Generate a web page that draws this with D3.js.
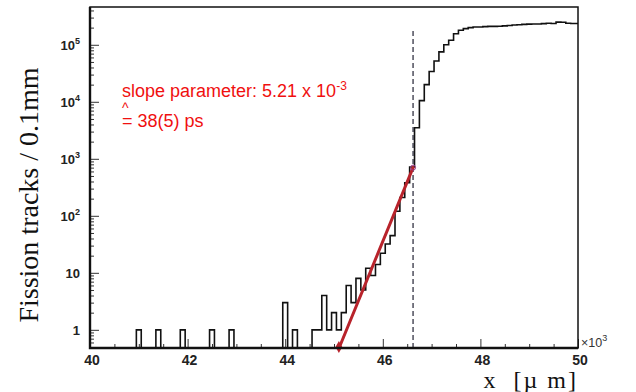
<!DOCTYPE html>
<html>
<head>
<meta charset="utf-8">
<script src="https://cdn.jsdelivr.net/npm/d3@7"></script>
<style>
body { margin: 0; background: #fff; }
</style>
</head>
<body>
<svg id="chart" width="636" height="392"></svg>
<script>
// histogram bins (left edge, x in 10^3 um) and counts per 0.1 mm
var binLo = [40.95, 41.35, 41.85, 42.45, 42.85, 43.95, 44.15,
             44.55, 44.65, 44.75, 44.85, 44.95, 45.05,
             45.15, 45.25, 45.35, 45.45, 45.55, 45.65, 45.75, 45.85, 45.95,
             46.05, 46.15, 46.25, 46.35, 46.45, 46.55,
             46.65, 46.75, 46.85, 46.95, 47.05, 47.15, 47.25, 47.35, 47.45,
             47.55, 47.65, 47.75, 47.85, 47.95, 48.05, 48.15, 48.25, 48.35,
             48.45, 48.55, 48.65, 48.75, 48.85, 48.95, 49.05, 49.15, 49.25,
             49.35, 49.45, 49.55, 49.65, 49.75, 49.85, 49.95];
var counts = [1, 1, 1, 1, 1, 3, 1,
              1, 1, 4, 1, 2, 1,
              2, 6, 3, 8, 5, 12, 9, 14, 22,
              32, 45, 120, 210, 380, 720,
              3500, 10500, 20000, 34000, 52000, 75000, 100000, 120000, 156000,
              180000, 192000, 200000, 205000, 205000, 208000, 210000, 210000, 212000,
              215000, 218000, 222000, 225000, 228000, 230000, 232000, 232000, 235000,
              238000, 236000, 250000, 248000, 238000, 236000, 236000];
var binWidth = 0.1;

var xTickVals = [40, 42, 44, 46, 48, 50];
var xTickLabels = ["40", "42", "44", "46", "48", "50"];
var yTickVals = [1, 10, 100, 1000, 10000, 100000];
var yTickBase = ["1", "10", "10", "10", "10", "10"];
var yTickExp = ["", "", "2", "3", "4", "5"];

// exponential fit, end points
var fitX = [45.1, 46.62];
var fitY = [0.47, 700];
var edgeX = 46.62;

var pLeft = 90, pRight = 578, pTop = 7, pBottom = 348;

var svg = d3.select("#chart");
var x = d3.scaleLinear().domain([40, 50]).range([pLeft, pRight]);
var y = d3.scaleLog().domain([0.48, 4.6e5]).range([pBottom, pTop]);

svg.append("defs").append("clipPath").attr("id", "plotclip")
   .append("rect").attr("x", pLeft).attr("y", pTop)
   .attr("width", pRight - pLeft).attr("height", pBottom - pTop);

// histogram outline
var pts = [[x(40), pBottom]];
binLo.forEach(function(b, i) {
    var x0 = x(b), x1 = x(b + binWidth), yy = y(counts[i]);
    var prev = binLo[i - 1], next = binLo[i + 1];
    if (prev === undefined || Math.abs(prev + binWidth - b) > 1e-6) pts.push([x0, pBottom]);
    pts.push([x0, yy], [x1, yy]);
    if (next === undefined || Math.abs(b + binWidth - next) > 1e-6) pts.push([x1, pBottom]);
});
svg.append("path")
   .attr("clip-path", "url(#plotclip)")
   .attr("d", d3.line()(pts))
   .style("fill", "none")
   .style("stroke", "#111")
   .style("stroke-width", "1.6px");

// dashed edge
svg.append("line")
   .attr("x1", x(edgeX)).attr("x2", x(edgeX))
   .attr("y1", 31).attr("y2", pBottom)
   .style("stroke", "#223")
   .style("stroke-width", "1.2px")
   .style("stroke-dasharray", "5,3");

// fit line
svg.append("line")
   .attr("x1", x(fitX[0])).attr("y1", y(fitY[0]))
   .attr("x2", x(fitX[1])).attr("y2", y(fitY[1]))
   .style("stroke", "#b8232b")
   .style("stroke-width", "3px")
   .style("stroke-linecap", "round");
svg.append("path")
   .attr("d", d3.symbol().type(d3.symbolDiamond).size(40)())
   .attr("transform", "translate(" + x(fitX[0]) + "," + (pBottom - 1) + ")")
   .style("fill", "#b8232b");
svg.append("circle")
   .attr("cx", x(fitX[1])).attr("cy", y(fitY[1]))
   .attr("r", 2.5)
   .style("fill", "none")
   .style("stroke", "#9a3a8a")
   .style("stroke-width", "1px");

// y axis ticks (inside)
var yMinor = [];
[0.1, 1, 10, 100, 1000, 10000, 100000].forEach(function(d) {
    for (var k = 2; k < 10; k++) {
        var v = d * k;
        if (v > 0.48 && v < 4.6e5) yMinor.push(v);
    }
});
svg.append("g").attr("transform", "translate(" + pLeft + ",0)")
   .call(d3.axisLeft(y).tickValues(yMinor).tickSize(-4).tickFormat(""))
   .call(function(g) { g.select(".domain").remove(); });
svg.append("g").attr("transform", "translate(" + pLeft + ",0)")
   .call(d3.axisLeft(y).tickValues(yTickVals).tickSize(-9).tickFormat(""))
   .call(function(g) { g.select(".domain").remove(); });

// x axis ticks (inside)
var xMinor = [];
for (var v = 40.5; v < 50; v += 0.5) if (xTickVals.indexOf(v) < 0) xMinor.push(v);
svg.append("g").attr("transform", "translate(0," + pBottom + ")")
   .call(d3.axisBottom(x).tickValues(xMinor).tickSize(-4).tickFormat(""))
   .call(function(g) { g.select(".domain").remove(); });
svg.append("g").attr("transform", "translate(0," + pBottom + ")")
   .call(d3.axisBottom(x).tickValues(xTickVals).tickSize(-9).tickFormat(""))
   .call(function(g) { g.select(".domain").remove(); });
svg.selectAll(".tick line").style("stroke", "#333").style("stroke-width", "1px");

// frame
svg.append("rect")
   .attr("x", pLeft).attr("y", pTop)
   .attr("width", pRight - pLeft).attr("height", pBottom - pTop)
   .style("fill", "none")
   .style("stroke", "#111")
   .style("stroke-width", "1.5px");
svg.append("path")
   .attr("d", "M" + pLeft + "," + pTop + "V" + pBottom + "H" + pRight)
   .style("fill", "none")
   .style("stroke", "#111")
   .style("stroke-width", "2.4px");

// tick labels
var yLab = svg.append("g")
   .style("font-family", "'Liberation Sans', Arial, sans-serif")
   .style("font-weight", "bold")
   .style("font-size", "13px")
   .style("fill", "#222");
yTickVals.forEach(function(d, i) {
    var t = yLab.append("text")
       .attr("x", 80).attr("y", y(d) + 5)
       .attr("text-anchor", "end");
    t.append("tspan").text(yTickBase[i]);
    if (yTickExp[i]) {
        t.append("tspan").attr("dy", -6).style("font-size", "9px").text(yTickExp[i]);
    }
});
xTickVals.forEach(function(d, i) {
    yLab.append("text")
       .attr("x", x(d) + 2).attr("y", 365)
       .attr("text-anchor", "middle")
       .style("font-size", "14px")
       .text(xTickLabels[i]);
});

// x10^3
var mult = svg.append("text")
   .attr("x", 581).attr("y", 347)
   .style("font-family", "'Liberation Sans', Arial, sans-serif")
   .style("font-size", "12.5px")
   .style("fill", "#333");
mult.append("tspan").text("\u00d710");
mult.append("tspan").attr("dy", -6).style("font-size", "9px").text("3");

// axis titles
svg.append("text")
   .attr("x", 578).attr("y", 388)
   .attr("text-anchor", "end")
   .style("font-family", "'Liberation Serif', 'Times New Roman', serif")
   .style("font-size", "24px")
   .style("letter-spacing", "2px")
   .style("white-space", "pre")
   .style("fill", "#111")
   .text("x  [\u00b5 m]");
svg.append("text")
   .attr("transform", "translate(38,195) rotate(-90)")
   .attr("text-anchor", "middle")
   .style("font-family", "'Liberation Serif', 'Times New Roman', serif")
   .style("font-size", "28px")
   .style("fill", "#111")
   .text("Fission tracks / 0.1mm");

// annotation
var ann = svg.append("g")
   .style("font-family", "'Liberation Sans', Arial, sans-serif")
   .style("font-size", "18px")
   .style("fill", "#f01010");
var a1 = ann.append("text").attr("x", 122).attr("y", 97);
a1.append("tspan").text("slope parameter: 5.21 x 10");
a1.append("tspan").attr("dy", -7).style("font-size", "12px").text("-3");
ann.append("text").attr("x", 122).attr("y", 113).style("font-size", "14px").text("^");
ann.append("text").attr("x", 122).attr("y", 127).text("= 38(5) ps");
</script>
</body>
</html>
